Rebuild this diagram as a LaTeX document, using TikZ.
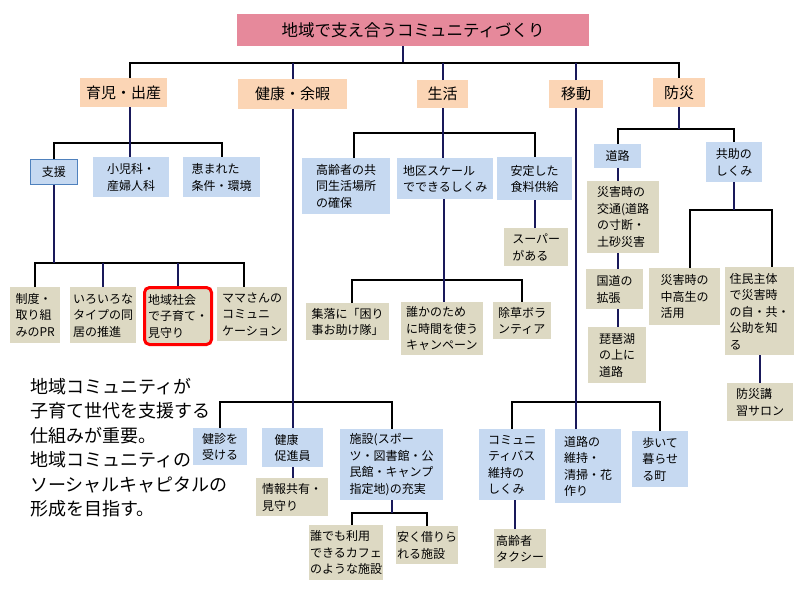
\documentclass[tikz,border=0pt]{standalone}
\usepackage{fontspec}
\setmainfont{Noto Sans CJK JP}
\usetikzlibrary{calc}
\definecolor{titlepink}{RGB}{230,137,155}
\definecolor{catpeach}{RGB}{251,213,181}
\definecolor{subblue}{RGB}{198,217,241}
\definecolor{leaftan}{RGB}{221,217,195}
\definecolor{shienblue}{RGB}{79,129,189}
\definecolor{navyline}{RGB}{25,25,90}
\tikzset{
titlebox/.style={fill=titlepink,font=\fontsize{16.5}{20}\selectfont,inner sep=0pt},
catbox/.style={fill=catpeach,font=\fontsize{15}{18}\selectfont,inner sep=0pt},
subbox/.style={fill=subblue,align=left,font=\fontsize{12}{16.5}\selectfont,inner sep=0pt},
leafbox/.style={fill=leaftan,align=left,font=\fontsize{12}{16.5}\selectfont,inner sep=0pt},
keybox/.style={leafbox,draw=red,line width=3pt,rounded corners=5pt},
shienbox/.style={subbox,draw=shienblue,line width=0.8pt},
msgtext/.style={align=left,font=\fontsize{18}{24.5}\selectfont,inner sep=0pt},
bracket/.style={draw=black,line width=2pt},
stem/.style={draw=navyline,line width=2pt}
}
\newcommand{\bx}[7]{%
\pgfmathsetmacro{\bxw}{#5-#3}\pgfmathsetmacro{\bxh}{#6-#4}%
\node[#2,anchor=north west,minimum width=\bxw pt,minimum height=\bxh pt] (#1) at (#3,#4) {#7};}

\begin{document}
\begin{tikzpicture}[x=1pt,y=-1pt]
\fill[white] (0,0) rectangle (800,600);
\useasboundingbox (0,0) rectangle (800,600);

\bx{title}{titlebox}{237}{14}{589}{46}{地域で支え合うコミュニティづくり}

\bx{ikuji}{catbox}{80}{78}{167}{107}{育児・出産}
\bx{kenko}{catbox}{238}{79}{347}{109}{健康・余暇}
\bx{seikatsu}{catbox}{417}{80}{468}{108}{生活}
\bx{ido}{catbox}{549}{80}{603}{108}{移動}
\bx{bousai}{catbox}{653}{78}{705}{107}{防災}

\bx{shien}{shienbox}{30}{159}{77}{184}{支援}
\bx{shoni}{subbox}{93}{157}{169}{197}{小児科・\\産婦人科}
\bx{megumare}{subbox}{183}{157}{260}{197}{恵まれた\\条件・環境}
\bx{seido}{leafbox}{10}{287}{60}{343}{制度・\\取り組\\みのPR}
\bx{iroiro}{leafbox}{70}{287}{136}{343}{いろいろな\\タイプの同\\居の推進}
\bx{chiiki}{keybox}{143}{286}{210}{343}{地域社会\\で子育て・\\見守り}
\bx{mama}{leafbox}{217}{287}{287}{341}{ママさんの\\コミュニ\\ケーション}

\node[msgtext,anchor=north west] (msg) at (30,378) {地域コミュニティが\\子育て世代を支援する\\仕組みが重要。\\地域コミュニティの\\ソーシャルキャピタルの\\形成を目指す。};

\bx{koreisha}{subbox}{302}{158}{390}{214}{高齢者の共\\同生活場所\\の確保}
\bx{chiku}{subbox}{397}{158}{493}{199}{地区スケール\\でできるしくみ}
\bx{antei}{subbox}{497}{157}{572}{200}{安定した\\食料供給}
\bx{super}{leafbox}{504}{228}{568}{266}{スーパー\\がある}
\bx{shuraku}{leafbox}{306}{303}{389}{340}{集落に「困り\\事お助け隊」}
\bx{dareka}{leafbox}{401}{302}{483}{355}{誰かのため\\に時間を使う\\キャンペーン}
\bx{josou}{leafbox}{493}{302}{551}{339}{除草ボラ\\ンティア}

\bx{douro}{subbox}{594}{144}{641}{168}{道路}
\bx{kyojo}{subbox}{706}{142}{762}{182}{共助の\\しくみ}
\bx{saigai}{leafbox}{587}{181}{659}{253}{災害時の\\交通(道路\\の寸断・\\土砂災害}
\bx{kokudo}{leafbox}{586}{269}{643}{309}{国道の\\拡張}
\bx{biwako}{leafbox}{588}{327}{646}{383}{琵琶湖\\の上に\\道路}
\bx{chukosei}{leafbox}{649}{268}{720}{325}{災害時の\\中高生の\\活用}
\bx{jumin}{leafbox}{725}{267}{794}{355}{住民主体\\で災害時\\の自・共・\\公助を知\\る}
\bx{koshu}{leafbox}{727}{383}{793}{421}{防災講\\習サロン}

\bx{kenshin}{subbox}{193}{428}{247}{465}{健診を\\受ける}
\bx{sokushin}{subbox}{262}{428}{323}{467}{健康\\促進員}
\bx{shisetsu}{subbox}{340}{429}{443}{500}{施設(スポー\\ツ・図書館・公\\民館・キャンプ\\指定地)の充実}
\bx{joho}{leafbox}{256}{478}{328}{516}{情報共有・\\見守り}
\bx{dare}{leafbox}{309}{525}{383}{580}{誰でも利用\\できるカフェ\\のような施設}
\bx{yasuku}{leafbox}{396}{526}{458}{564}{安く借りら\\れる施設}

\bx{combus}{subbox}{479}{429}{545}{500}{コミュニ\\ティバス\\維持の\\しくみ}
\bx{douroiji}{subbox}{555}{429}{621}{503}{道路の\\維持・\\清掃・花\\作り}
\bx{aruite}{subbox}{632}{431}{688}{487}{歩いて\\暮らせ\\る町}
\bx{taxi}{leafbox}{494}{529}{546}{568}{高齢者\\タクシー}

\coordinate (jt) at (403,63);
\draw[stem] (jt |- title.south) -- (jt);
\draw[bracket] ($(ikuji.north)+(6,0)$) |- (jt) -| (bousai.north);
\foreach \c in {kenko,seikatsu,ido} \draw[stem] (\c.north) -- (\c.north |- jt);

\coordinate (j1) at (130,143);
\draw[bracket] (shien.north) |- (j1) -| (megumare.north);
\draw[stem] (j1 |- ikuji.south) -- (j1 |- shoni.north);

\coordinate (j2) at (54,263);
\draw[bracket] (seido.north) |- (j2) -| ($(mama.north)+(-8,0)$);
\draw[stem] (shien.south) -- (shien.south |- j2);
\foreach \c in {iroiro,chiiki} \draw[stem] (\c.north) -- (\c.north |- j2);

\coordinate (j3) at (293,402);
\draw[bracket] (kenshin.north) |- (j3) -| (shisetsu.north);
\draw[stem] (kenko.south) -- (kenko.south |- sokushin.north);
\draw[stem] (sokushin.south) -- (sokushin.south |- joho.north);
\coordinate (j4) at (390,513);
\draw[bracket] ($(dare.north)+(6,0)$) |- (j4) -| (yasuku.north);
\draw[stem] (shisetsu.south) -- (shisetsu.south |- j4);

\coordinate (j5) at (444,133);
\draw[bracket] ($(koreisha.north)+(8,0)$) |- (j5) -| (antei.north);
\draw[stem] (seikatsu.south) -- (seikatsu.south |- chiku.north);
\draw[stem] (antei.south) -- (antei.south |- super.north);
\coordinate (j6) at (444,280);
\draw[bracket] ($(shuraku.north)+(4,0)$) |- (j6) -| (josou.north);
\draw[stem] (j6 |- chiku.south) -- (j6 |- dareka.north);

\coordinate (j7) at (577,402);
\draw[bracket] (combus.north) |- (j7) -| (aruite.north);
\draw[stem] (ido.south) -- (ido.south |- douroiji.north);
\draw[stem] ($(combus.south)+(3,0)$) -- ($(combus.south |- taxi.north)+(3,0)$);

\coordinate (j8) at (679,129);
\draw[bracket] (douro.north) |- (j8) -| (kyojo.north);
\draw[stem] (bousai.south) -- (bousai.south |- j8);
\draw[stem] (douro.south) -- (douro.south |- saigai.north);
\draw[stem] (douro.south |- saigai.south) -- (douro.south |- kokudo.north);
\draw[stem] (douro.south |- kokudo.south) -- (douro.south |- biwako.north);
\coordinate (j9) at (735,210);
\draw[bracket] ($(chukosei.north)+(5,0)$) |- (j9) -| ($(jumin.north)+(12,0)$);
\draw[stem] (kyojo.south) -- (kyojo.south |- j9);
\draw[stem] (jumin.south) -- (jumin.south |- koshu.north);
\end{tikzpicture}
\end{document}
